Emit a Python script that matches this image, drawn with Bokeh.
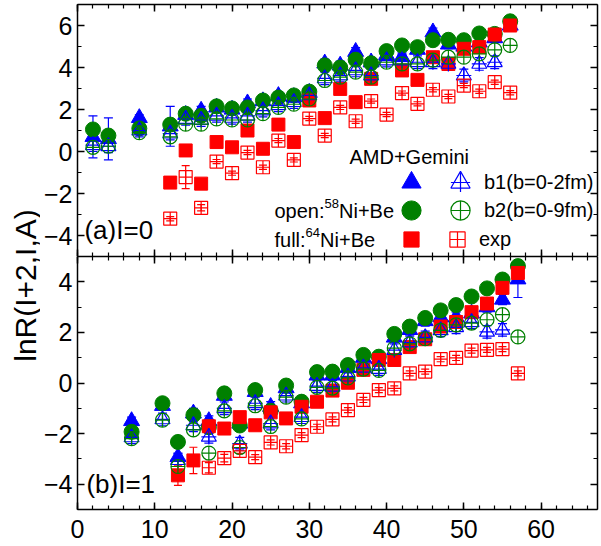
import math
from bokeh.plotting import figure
from bokeh.models import (Range1d, LinearAxis, SingleIntervalTicker, Label, Legend,
                          LegendItem, Whisker, TeeHead, ColumnDataSource)
from bokeh.layouts import row, column
from bokeh.embed import file_html
from bokeh.resources import INLINE

NaN = float("nan")

# ---------------- panel (a) I=0 ----------------
A_top = [2, 4, 8, 12, 14, 16, 18, 20, 22, 24, 26, 28, 30, 32, 34, 36, 38, 40, 42, 44, 46, 48, 50, 52, 54, 56]
b1_64_top = [0.7, 0.6, 1.6, 1.2, 1.75, 1.95, 2.1, 2.0, 2.3, 2.4, 2.65, 2.6, 2.8, 4.2, 4.1, 4.75, 4.25, 4.6, 4.5, 4.85, 5.68, 5.1, 5.0, 5.2, 5.4, 6.0]
b1_64_top_err = [1.0, 1.0, 0.15, 0.95, 0.2, 0.2, 0.2, 0.2, 0.2, 0.2, 0.2, 0.2, 0.2, 0.2, 0.2, 0.2, 0.2, 0.2, 0.2, 0.2, 0.2, 0.2, 0.2, 0.2, 0.2, 0.2]
b2_64_top = [1.05, 0.76, 1.1, 1.28, 1.8, 1.7, 2.15, 2.05, 2.1, 2.43, 2.57, 2.67, 2.85, 4.1, 4.0, 4.37, 4.2, 4.78, 5.05, 4.97, 5.3, 5.32, 5.3, 5.62, 5.6, 6.2]
b1_58_top = [0.3, 0.25, 1.0, 0.85, 1.55, 1.5, 1.7, 1.6, 1.7, 1.95, 2.2, 2.35, 2.67, 3.48, 3.62, 3.86, 3.62, 4.33, 4.33, 4.25, 4.25, 4.17, 3.62, 4.17, 4.25, NaN]
b1_58_top_err = [0.3, 0.3, 0.3, 0.3, 0.3, 0.3, 0.3, 0.3, 0.3, 0.3, 0.3, 0.3, 0.3, 0.3, 0.3, 0.3, 0.3, 0.3, 0.3, 0.3, 0.3, 0.3, 0.3, 0.3, 0.3, 0.3]
b2_58_top = [0.2, 0.25, 0.9, 0.7, 1.3, 1.3, 1.55, 1.5, 1.5, 1.8, 2.1, 2.25, 2.5, 3.38, 3.54, 3.78, 3.54, 4.25, 4.17, 4.17, 4.35, 4.49, 4.49, 4.65, 4.84, 5.05]
A_exp_top = [12, 14, 16, 18, 20, 22, 24, 26, 28, 30, 32, 34, 36, 38, 40, 42, 44, 46, 48, 50, 52, 54, 56]
exp_64_top = [-1.48, 0.05, -1.53, 0.45, 0.2, 1.0, 0.13, 1.28, 0.45, 2.43, 1.59, 2.98, 2.35, 3.46, NaN, 3.86, 3.41, 4.49, 4.17, 4.89, 4.97, 5.57, 6.0]
exp_64_top_err = [0.1, 0.1, 0.1, 0.1, 0.1, 0.1, 0.1, 0.1, 0.1, 0.1, 0.1, 0.1, 0.1, 0.1, 0.1, 0.1, 0.1, 0.1, 0.1, 0.1, 0.1, 0.1, 0.1]
exp_58_top = [-3.2, -1.22, -2.68, -0.48, -1.03, -0.05, -0.75, 0.52, -0.4, 1.57, 0.76, 2.1, 1.44, 2.40, 1.76, 2.78, 2.27, 2.94, 2.62, 3.14, 2.87, 3.3, 2.8]
exp_58_top_err = [0.1, 0.55, 0.15, 0.1, 0.1, 0.1, 0.1, 0.1, 0.1, 0.1, 0.1, 0.1, 0.1, 0.1, 0.1, 0.1, 0.1, 0.1, 0.1, 0.1, 0.1, 0.1, 0.1]

# ---------------- panel (b) I=1 ----------------
A_bot = [7, 11, 13, 15, 17, 19, 21, 23, 25, 27, 29, 31, 33, 35, 37, 39, 41, 43, 45, 47, 49, 51, 53, 55, 57]
b1_64_bot = [-1.5, -0.9, -2.92, -1.2, -1.5, -0.5, -1.6, -0.35, -0.94, -0.2, -0.8, 0.3, 0.3, 0.6, 1.0, 0.95, 1.8, 2.1, 2.45, 2.6, 2.6, 2.75, 3.0, 3.3, 4.1]
b1_64_bot_err = [0.15, 0.15, 0.15, 0.2, 0.2, 0.2, 0.2, 0.2, 0.2, 0.2, 0.2, 0.2, 0.2, 0.2, 0.2, 0.2, 0.2, 0.2, 0.2, 0.2, 0.2, 0.2, 0.2, 0.2, 0.72]
b2_64_bot = [-1.93, -0.8, -2.33, -1.27, -1.75, -0.41, -1.68, -0.28, -1.1, -0.1, -0.74, 0.43, 0.45, 0.71, 1.11, 1.04, 1.94, 2.23, 2.57, 2.87, 3.08, 3.42, 3.74, 4.09, 4.62]
b1_58_bot = [-2.15, -1.44, -3.05, -1.67, -2.13, -1.0, -2.4, -0.8, -1.6, -0.5, -1.35, -0.12, -0.15, 0.25, 0.6, 0.55, 1.3, 1.6, 1.8, 2.08, 2.2, 2.4, 2.02, 2.1, NaN]
b1_58_bot_err = [0.25, 0.25, 0.25, 0.25, 0.25, 0.25, 0.25, 0.25, 0.25, 0.25, 0.25, 0.25, 0.25, 0.25, 0.25, 0.25, 0.25, 0.25, 0.25, 0.25, 0.25, 0.25, 0.25, 0.25, 0.25]
b2_58_bot = [-2.2, -1.47, -3.3, -1.85, -2.77, -1.1, -2.55, -0.9, -1.72, -0.56, -1.42, -0.17, -0.2, 0.2, 0.55, 0.5, 1.38, 1.55, 1.75, 2.08, 2.3, 2.37, 2.5, 2.7, 1.82]
A_exp64_bot = [13, 15, 17, 19, 21, 23, 25, 27, 29, 31, 33, 35, 37, 39, 41, 43, 45, 47, 49, 51, 53, 55, 57]
exp_64_bot = [-3.65, -3.06, -1.71, -1.8, -1.35, -1.67, -1.16, -1.4, -0.94, -0.74, -0.3, 0.01, 0.52, 0.91, 0.91, 1.42, 1.73, 2.23, 2.41, 2.8, 3.14, 3.76, 4.35]
exp_64_bot_err = [0.4, 0.52, 0.1, 0.1, 0.1, 0.1, 0.1, 0.1, 0.1, 0.1, 0.1, 0.1, 0.1, 0.1, 0.1, 0.1, 0.1, 0.1, 0.1, 0.1, 0.1, 0.1, 0.1]
A_exp58_bot = [17, 19, 21, 23, 25, 27, 29, 31, 33, 35, 37, 39, 41, 43, 45, 47, 49, 51, 53, 55, 57]
exp_58_bot = [-3.35, -2.97, -2.68, -2.93, -2.35, -2.5, -2.06, -1.73, -1.44, -1.07, -0.67, -0.28, -0.21, 0.38, 0.45, 0.94, 0.99, 1.28, 1.31, 1.34, 0.38]
exp_58_bot_err = [0.2, 0.15, 0.1, 0.1, 0.1, 0.1, 0.1, 0.1, 0.1, 0.1, 0.1, 0.1, 0.1, 0.1, 0.1, 0.1, 0.1, 0.1, 0.1, 0.1, 0.1]

x_ticks_interval = 10
y_ticks_interval = 2

BLUE = "#0000ff"
GREEN = "#008000"
RED = "#ff0000"
FONT = "Liberation Sans"


def style_axis(ax, show_labels, standoff=5):
    ax.axis_line_width = 1.5
    ax.axis_line_color = "black"
    ax.major_tick_in = 7
    ax.major_tick_out = 0
    ax.minor_tick_in = 4
    ax.minor_tick_out = 0
    ax.major_tick_line_width = 1.5
    ax.minor_tick_line_width = 1.2
    ax.major_tick_line_color = "black"
    ax.minor_tick_line_color = "black"
    ax.major_label_text_font = FONT
    ax.major_label_text_color = "black"
    ax.major_label_text_font_size = "25px"
    ax.major_label_standoff = standoff
    if not show_labels:
        ax.major_label_text_font_size = "0px"
        ax.major_label_text_color = None
        ax.major_label_standoff = 0


def make_fig(height, yr, xr, border_top, border_bottom, bottom_labels):
    p = figure(width=561, height=height, x_range=xr, y_range=yr,
               output_backend="svg", toolbar_location=None,
               min_border_left=33, min_border_right=4,
               min_border_top=border_top, min_border_bottom=border_bottom)
    p.grid.visible = False
    p.outline_line_color = None
    p.background_fill_color = "white"
    p.border_fill_color = "white"
    p.xaxis.ticker = SingleIntervalTicker(interval=x_ticks_interval, num_minor_ticks=5)
    p.yaxis.ticker = SingleIntervalTicker(interval=y_ticks_interval, num_minor_ticks=2)
    style_axis(p.xaxis[0], bottom_labels, 10)
    style_axis(p.yaxis[0], True, 5)
    top = LinearAxis(ticker=SingleIntervalTicker(interval=x_ticks_interval, num_minor_ticks=5))
    style_axis(top, False)
    p.add_layout(top, "above")
    right = LinearAxis(ticker=SingleIntervalTicker(interval=y_ticks_interval, num_minor_ticks=2))
    style_axis(right, False)
    p.add_layout(right, "right")
    return p


def errsrc(xs, ys, es):
    return ColumnDataSource(dict(x=xs, y=ys,
                                 lo=[y - e for y, e in zip(ys, es)],
                                 hi=[y + e for y, e in zip(ys, es)]))


def whisk(p, src, color, head=9):
    w = Whisker(source=src, base="x", upper="hi", lower="lo", dimension="height",
                line_color=color, line_width=1.2,
                upper_head=TeeHead(size=head, line_color=color, line_width=1.2),
                lower_head=TeeHead(size=head, line_color=color, line_width=1.2))
    p.add_layout(w)


def draw_panel(p, A, b164, b164e, b264, b158, b158e, b258, Ae64, e64, e64e, Ae58, e58, e58e):
    s_b164 = errsrc(A, b164, b164e)
    s_b158 = errsrc(A, b158, b158e)
    s_e64 = errsrc(Ae64, e64, e64e)
    s_e58 = errsrc(Ae58, e58, e58e)
    s_b264 = ColumnDataSource(dict(x=A, y=b264))
    s_b258 = ColumnDataSource(dict(x=A, y=b258))
    whisk(p, s_b164, BLUE)
    whisk(p, s_e64, RED, 8)
    whisk(p, s_b158, BLUE)
    whisk(p, s_e58, RED, 8)
    r = {}
    r["b164"] = p.scatter("x", "y", source=s_b164, marker="triangle", size=16,
                          fill_color=BLUE, line_color=BLUE, line_width=1)
    r["b264"] = p.scatter("x", "y", source=s_b264, marker="circle", size=15,
                          fill_color=GREEN, line_color=GREEN, line_width=1)
    r["e64"] = p.scatter("x", "y", source=s_e64, marker="square", size=13,
                         fill_color=RED, line_color=RED, line_width=1)
    r["b158"] = p.scatter("x", "y", source=s_b158, marker="triangle", size=15,
                          fill_color=None, line_color=BLUE, line_width=1.2)
    r["b158x"] = p.scatter("x", "y", source=s_b158, marker="cross", size=15,
                           fill_color=None, line_color=BLUE, line_width=1.2)
    r["b258"] = p.scatter("x", "y", source=s_b258, marker="circle_cross", size=14,
                          fill_color=None, line_color=GREEN, line_width=1.2)
    r["e58"] = p.scatter("x", "y", source=s_e58, marker="square_cross", size=13,
                         fill_color=None, line_color=RED, line_width=1.2)
    return r


xr = Range1d(0, 67.3)
p1 = make_fig(256, Range1d(-5, 7), xr, 4, 0, False)
p2 = make_fig(290, Range1d(-5, 5), xr, 0, 37, True)

r1 = draw_panel(p1, A_top, b1_64_top, b1_64_top_err, b2_64_top, b1_58_top, b1_58_top_err, b2_58_top,
                A_exp_top, exp_64_top, exp_64_top_err, A_exp_top, exp_58_top, exp_58_top_err)
r2 = draw_panel(p2, A_bot, b1_64_bot, b1_64_bot_err, b2_64_bot, b1_58_bot, b1_58_bot_err, b2_58_bot,
                A_exp64_bot, exp_64_bot, exp_64_bot_err, A_exp58_bot, exp_58_bot, exp_58_bot_err)

# panel labels
p1.add_layout(Label(x=0.9, y=-3.76, text="(a)I=0", text_font=FONT, text_font_size="26px",
                    text_baseline="middle", text_align="left", text_color="black"))
p2.add_layout(Label(x=1.15, y=-4.0, text="(b)I=1", text_font=FONT, text_font_size="26px",
                    text_baseline="middle", text_align="left", text_color="black"))


# legend (two marker columns per row)
def row_legend(p, r_fill, r_open, label, x, y, g, standoff, spacing):
    leg = Legend(items=[LegendItem(label="", renderers=[r_fill]),
                        LegendItem(label=label, renderers=r_open)],
                 orientation="horizontal", location=(x, y),
                 glyph_width=g, glyph_height=g, label_standoff=standoff, spacing=spacing,
                 padding=0, margin=0, border_line_color=None, background_fill_alpha=0,
                 label_width=0, label_height=0, label_text_font=FONT,
                 label_text_font_size="20px", label_text_baseline="middle",
                 label_text_color="black")
    p.add_layout(leg)


row_legend(p1, r1["b164"], [r1["b158"], r1["b158x"]], "b1(b=0-2fm)", 310, 50, 48, -3, 1)
row_legend(p1, r1["b264"], [r1["b258"]], "b2(b=0-9fm)", 310, 22, 48, -3, 1)
row_legend(p1, r1["e64"], [r1["e58"]], "exp", 315, -2, 38, 3, 5)


def slabel(p, x, y, text, size="20px"):
    p.add_layout(Label(x=x, y=y, x_units="screen", y_units="screen", text=text,
                       text_font=FONT, text_font_size=size, text_baseline="middle",
                       text_align="left", text_color="black"))


slabel(p1, 272, 100, "AMD+Gemini")
slabel(p1, 197, 46, "open:")
slabel(p1, 247, 53, "58", "13px")
slabel(p1, 261.5, 46, "Ni+Be")
slabel(p1, 197, 17, "full:")
slabel(p1, 228.1, 24, "64", "13px")
slabel(p1, 242.6, 17, "Ni+Be")

# y axis title spanning both panels: an otherwise empty strip whose left axis carries the title
pl = figure(width=40, height=546, x_range=Range1d(0, 1), y_range=Range1d(0, 1),
            x_axis_type=None, y_axis_location="left",
            min_border_left=39, min_border_right=0, min_border_top=24, min_border_bottom=0,
            output_backend="svg", toolbar_location=None)
pl.outline_line_color = None
pl.grid.visible = False
ya = pl.yaxis[0]
ya.axis_label = "lnR(I+2,I,A)"
ya.axis_label_text_font = FONT
ya.axis_label_text_font_size = "30px"
ya.axis_label_text_font_style = "normal"
ya.axis_label_text_color = "black"
ya.axis_label_standoff = -2
ya.axis_line_color = None
ya.major_tick_line_color = None
ya.minor_tick_line_color = None
ya.major_tick_out = 0
ya.major_tick_in = 0
ya.minor_tick_out = 0
ya.minor_tick_in = 0
ya.major_label_text_font_size = "0px"
ya.major_label_text_color = None
ya.major_label_standoff = 0

layout = row(pl, column(p1, p2))
open("out.html", "w").write(file_html(layout, INLINE))
